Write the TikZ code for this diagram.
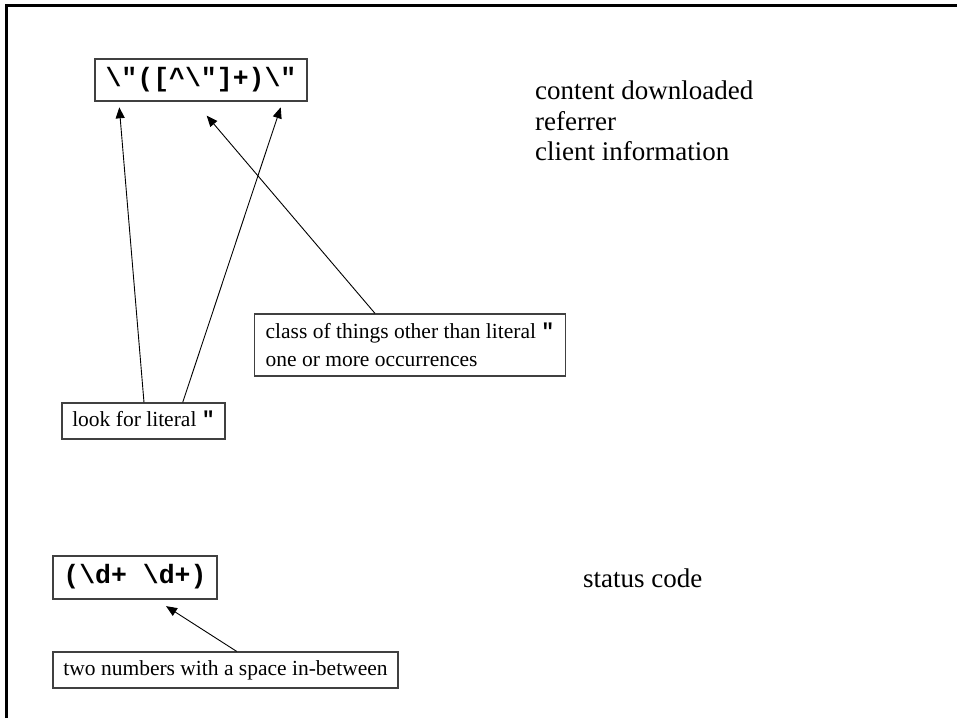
\documentclass[tikz,border=0pt]{standalone}
\usepackage{fontspec}
\setmainfont{Liberation Serif}
\setmonofont{Liberation Mono}
\usetikzlibrary{arrows.meta}
\begin{document}
\begin{tikzpicture}[x=1pt,y=-1pt,
  box/.style={draw=black!75,line width=1.2pt,inner sep=0pt,fill=white},
  regex/.style={box,font={\fontsize{26.5}{30}\selectfont\ttfamily\bfseries},text height=18.3pt,text depth=5.8pt},
  note/.style={box,font={\fontsize{21.5}{27.7}\selectfont},text height=14.8pt,text depth=4.7pt},
  plain/.style={inner sep=0pt,anchor=base west,font={\fontsize{27}{30}\selectfont}},
  arr/.style={line width=0.9pt,-{Triangle[length=11pt,width=9pt]}}]
\useasboundingbox (0,0) rectangle (957,718);
% frame
\draw[line width=2.5pt] (6.5,718) -- (6.5,5.7) -- (957,5.7);
% regex boxes
\node[regex,minimum width=212pt,minimum height=42pt] (A) at (201,80)
  {\textbackslash"([\textasciicircum\textbackslash"]+)\textbackslash"};
\node[regex,minimum width=164pt,minimum height=43pt] (B) at (135,577.5)
  {(\textbackslash{}d+ \textbackslash{}d+)};
% notes
\node[note,minimum width=163pt,minimum height=36pt] (look) at (143.5,421)
  {look for literal {\ttfamily\bfseries "}};
\node[box,font={\fontsize{21.5}{27.7}\selectfont},align=left,inner xsep=11pt,minimum height=62pt,anchor=west] (cls) at (254,345)
  {class of things other than literal {\ttfamily\bfseries "}\\one or more occurrences};
\node[note,minimum width=345pt,minimum height=36pt] (two) at (225.5,670)
  {two numbers with a space in-between};
% plain texts
\node[plain] (c1) at (535,99.5) {content downloaded};
\node[plain] (c2) at (535,130) {referrer};
\node[plain] (c3) at (535,160) {client information};
\node[plain] (sc) at (583,587) {status code};
% arrows
\draw[arr] ([xshift=0.5pt]look.north) -- ([xshift=-81.7pt,yshift=-5.7pt]A.south);
\draw[arr] ([xshift=39.2pt]look.north) -- ([xshift=79.7pt,yshift=-5.7pt]A.south);
\draw[arr] ([xshift=121pt]cls.north west) -- ([xshift=5.7pt,yshift=-14pt]A.south);
\draw[arr] ([xshift=11.2pt]two.north) -- ([xshift=31pt,yshift=-6.5pt]B.south);
\end{tikzpicture}
\end{document}
